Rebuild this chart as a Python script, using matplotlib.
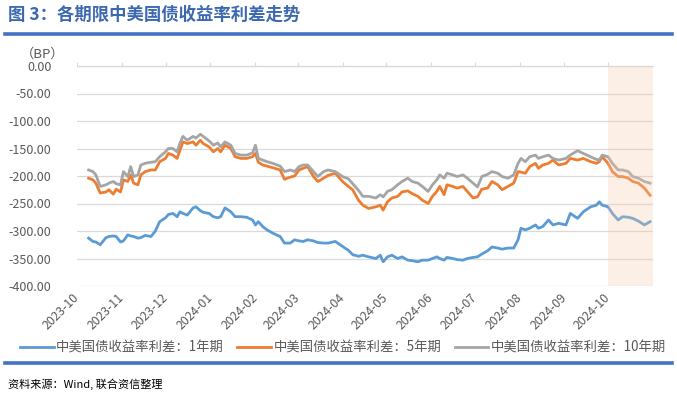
import matplotlib
matplotlib.use("Agg")
import matplotlib.pyplot as plt
import matplotlib.dates as mdates
from matplotlib.lines import Line2D
import numpy as np
import pandas as pd

plt.rcParams['font.family'] = ['Noto Sans CJK SC', 'DejaVu Sans']

# ---------------- data ----------------
dates = [
    "2023-10-09", "2023-10-12", "2023-10-14", "2023-10-17", "2023-10-21", "2023-10-23", "2023-10-26", "2023-10-28",
    "2023-10-31", "2023-11-02", "2023-11-05", "2023-11-07", "2023-11-09", "2023-11-12", "2023-11-14", "2023-11-17",
    "2023-11-21", "2023-11-24", "2023-11-27", "2023-12-01", "2023-12-03", "2023-12-06", "2023-12-09", "2023-12-11",
    "2023-12-13", "2023-12-16", "2023-12-20", "2023-12-22", "2023-12-25", "2023-12-27", "2023-12-31", "2024-01-03",
    "2024-01-06", "2024-01-08", "2024-01-11", "2024-01-15", "2024-01-18", "2024-01-22", "2024-01-26", "2024-01-30",
    "2024-02-01", "2024-02-03", "2024-02-06", "2024-02-09", "2024-02-13", "2024-02-18", "2024-02-21", "2024-02-25",
    "2024-02-28", "2024-03-02", "2024-03-05", "2024-03-08", "2024-03-12", "2024-03-15", "2024-03-19", "2024-03-22",
    "2024-03-27", "2024-04-01", "2024-04-05", "2024-04-08", "2024-04-12", "2024-04-15", "2024-04-19", "2024-04-24",
    "2024-04-27", "2024-04-29", "2024-05-02", "2024-05-05", "2024-05-09", "2024-05-12", "2024-05-16", "2024-05-19",
    "2024-05-23", "2024-05-26", "2024-05-30", "2024-06-02", "2024-06-05", "2024-06-07", "2024-06-10", "2024-06-12",
    "2024-06-16", "2024-06-19", "2024-06-23", "2024-06-26", "2024-06-30", "2024-07-03", "2024-07-06", "2024-07-10",
    "2024-07-13", "2024-07-17", "2024-07-20", "2024-07-24", "2024-07-28", "2024-07-31", "2024-08-02", "2024-08-05",
    "2024-08-08", "2024-08-12", "2024-08-14", "2024-08-17", "2024-08-21", "2024-08-24", "2024-08-28", "2024-09-02",
    "2024-09-05", "2024-09-10", "2024-09-14", "2024-09-19", "2024-09-23", "2024-09-25", "2024-09-27", "2024-10-01",
    "2024-10-04", "2024-10-08", "2024-10-11", "2024-10-15", "2024-10-18", "2024-10-22", "2024-10-26", "2024-10-30",
]

spread_1y = [
    -313, -319, -320, -325, -312, -310, -309, -310, -320, -318, -307, -309, -310, -313, -312, -308,
    -310, -300, -283, -276, -270, -268, -274, -265, -268, -271, -258, -256, -263, -266, -268, -274,
    -276, -274, -258, -265, -274, -274, -275, -280, -289, -283, -292, -298, -304, -310, -322, -322,
    -316, -318, -319, -316, -318, -321, -322, -322, -319, -328, -335, -343, -346, -344, -347, -350,
    -344, -356, -347, -344, -350, -347, -353, -354, -356, -353, -353, -350, -347, -350, -353, -348,
    -350, -352, -353, -350, -348, -347, -342, -336, -329, -331, -333, -331, -331, -316, -295, -298,
    -295, -289, -295, -292, -280, -289, -286, -289, -268, -277, -265, -256, -253, -247, -253, -256,
    -268, -280, -274, -275, -277, -282, -289, -283,
]

spread_5y = [
    -204, -207, -213, -231, -229, -225, -233, -224, -229, -207, -210, -198, -213, -216, -198, -192,
    -189, -189, -174, -168, -159, -162, -168, -153, -138, -141, -138, -144, -135, -141, -147, -156,
    -150, -156, -144, -150, -165, -168, -168, -165, -159, -175, -180, -182, -185, -189, -206, -202,
    -200, -189, -186, -183, -201, -210, -204, -199, -195, -210, -219, -225, -244, -253, -259, -256,
    -253, -262, -247, -240, -237, -229, -227, -232, -237, -244, -250, -237, -228, -219, -234, -216,
    -219, -222, -219, -228, -240, -238, -224, -222, -210, -216, -225, -219, -213, -192, -193, -195,
    -183, -177, -186, -180, -177, -171, -180, -177, -168, -171, -168, -174, -177, -174, -165, -177,
    -192, -201, -201, -204, -210, -213, -222, -235,
]

spread_10y = [
    -189, -192, -198, -219, -216, -213, -210, -214, -216, -192, -201, -183, -201, -198, -180, -177,
    -175, -174, -165, -156, -150, -150, -156, -140, -128, -135, -128, -131, -124, -128, -136, -144,
    -140, -147, -138, -144, -159, -162, -162, -158, -144, -168, -171, -174, -177, -182, -192, -189,
    -192, -183, -180, -180, -192, -201, -192, -189, -192, -201, -205, -214, -226, -237, -237, -240,
    -234, -238, -228, -225, -216, -210, -204, -210, -213, -219, -228, -216, -207, -198, -204, -195,
    -198, -201, -198, -204, -213, -220, -201, -197, -192, -195, -201, -204, -198, -177, -168, -174,
    -165, -162, -168, -165, -162, -168, -171, -168, -162, -154, -159, -165, -170, -171, -162, -165,
    -177, -189, -189, -192, -201, -204, -210, -213,
]

series_names = ["中美国债收益率利差：1年期", "中美国债收益率利差：5年期", "中美国债收益率利差：10年期"]
series_colors = ["#5B9BD5", "#ED7D31", "#A5A5A5"]

tick_months = ["2023-10-01", "2023-11-01", "2023-12-01", "2024-01-01", "2024-02-01", "2024-03-01",
               "2024-04-01", "2024-05-01", "2024-06-01", "2024-07-01", "2024-08-01", "2024-09-01",
               "2024-10-01"]
x_start, x_end = "2023-10-01", "2024-11-01"
shade_start, shade_end = "2024-10-01", "2024-11-01"
y_ticks = [0, -50, -100, -150, -200, -250, -300, -350, -400]

title = "图 3：各期限中美国债收益率利差走势"
unit_label = "（BP）"
source = "资料来源：Wind, 联合资信整理"

# ---------------- figure ----------------
fig = plt.figure(figsize=(6.77, 3.93), dpi=100)
ax = fig.add_axes([77 / 677, 1 - 286 / 393, (653 - 77) / 677, (286 - 66) / 393])

d = pd.to_datetime(dates)
for vals, name, col in zip([spread_1y, spread_5y, spread_10y], series_names, series_colors):
    ax.plot(d, vals, color=col, lw=2.0, label=name, zorder=2, solid_joinstyle='round')

ax.axvspan(pd.Timestamp(shade_start), pd.Timestamp(shade_end), facecolor="#F8CBAD",
           alpha=0.3, lw=0, zorder=3)

ax.set_xlim(pd.Timestamp(x_start), pd.Timestamp(x_end))
ax.set_ylim(min(y_ticks), max(y_ticks))
ax.set_yticks(y_ticks)
ax.yaxis.set_major_formatter(matplotlib.ticker.FormatStrFormatter('%.2f'))
ax.grid(axis='y', color='#D9D9D9', lw=0.9, zorder=0)
ax.set_axisbelow(True)

for s in ['left', 'right', 'bottom']:
    ax.spines[s].set_visible(False)
ax.spines['top'].set_color('#D9D9D9')
ax.spines['top'].set_linewidth(0.9)

ax.set_xticks(pd.to_datetime(tick_months))
ax.xaxis.set_major_formatter(mdates.DateFormatter('%Y-%m'))
ax.tick_params(axis='x', bottom=False, top=True, labelbottom=True, labeltop=False,
               direction='out', length=3, color='#D9D9D9', labelsize=8.8,
               labelcolor='#595959', pad=4)
ax.tick_params(axis='y', left=False, labelsize=9, labelcolor='#595959', pad=15)
for lab in ax.get_xticklabels():
    lab.set_rotation(45)
    lab.set_ha('right')
    lab.set_va('center')
    lab.set_rotation_mode('anchor')

# unit label
fig.text(43 / 677, 1 - 54 / 393, unit_label, ha='center', va='center', fontsize=9.5, color='#595959')

# title and rules
fig.text(8 / 677, 1 - 15 / 393, title, ha='left', va='center', fontsize=12.5,
         fontweight='bold', color='#3C68B0')
fig.add_artist(Line2D([5 / 677, 672 / 677], [1 - 33.5 / 393] * 2, color='#4472C4', lw=2.6))
fig.add_artist(Line2D([5 / 677, 672 / 677], [1 - 363 / 393] * 2, color='#4472C4', lw=2.6))

# legend
fig.legend(loc='center', bbox_to_anchor=(343 / 677, 1 - 348 / 393), ncol=3, frameon=False,
           fontsize=9.6, labelcolor='#595959', handlelength=2.5, handletextpad=0.2,
           columnspacing=1.0, borderaxespad=0, borderpad=0)

fig.text(8 / 677, 1 - 384 / 393, source, ha='left', va='center', fontsize=8, color='#000000')

fig.savefig("out.png", dpi=100)
